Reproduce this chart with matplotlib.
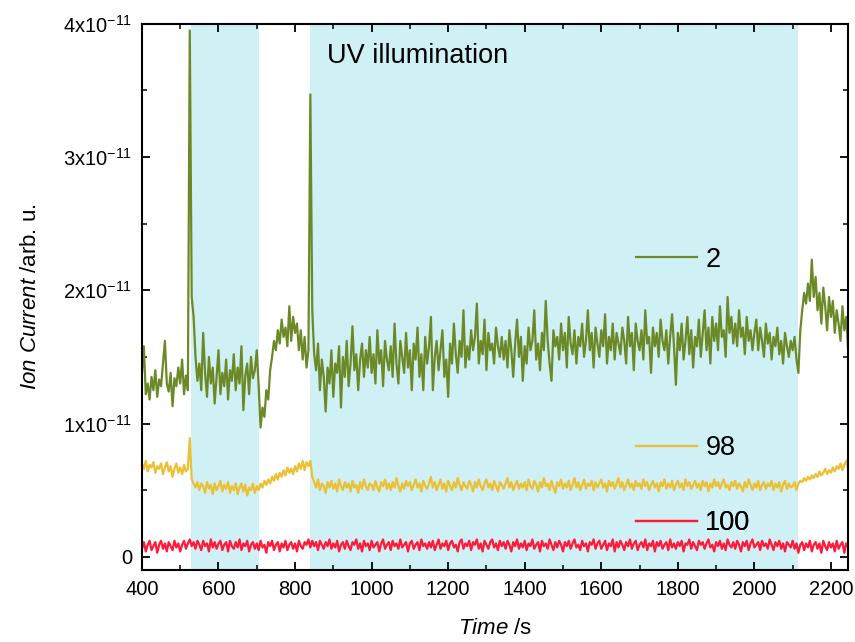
import numpy as np
import matplotlib
matplotlib.use("Agg")
import matplotlib.pyplot as plt
from matplotlib.ticker import MultipleLocator, FixedLocator, FuncFormatter

plt.rcParams['font.family'] = ['Liberation Sans', 'DejaVu Sans']
plt.rcParams['mathtext.fontset'] = 'custom'
plt.rcParams['mathtext.rm'] = 'Liberation Sans'
plt.rcParams['mathtext.it'] = 'Liberation Sans:italic'
plt.rcParams['mathtext.default'] = 'regular'

# time base (s), 5 s sampling
t_start, t_step = 400, 5

# m/z 2 ion current (units of 1e-11)
mz2 = [
    1.38,1.58,1.22,1.30,1.18,1.35,1.25,1.40,1.20,1.33,
    1.28,1.45,1.62,1.30,1.24,1.38,1.13,1.34,1.28,1.42,
    1.30,1.48,1.22,1.36,1.25,3.95,1.95,1.80,1.50,1.32,
    1.45,1.25,1.68,1.38,1.20,1.50,1.30,1.42,1.15,1.35,
    1.55,1.22,1.38,1.28,1.48,1.18,1.40,1.32,1.52,1.25,
    1.42,1.30,1.58,1.10,1.36,1.45,1.22,1.50,1.34,1.40,
    1.55,1.28,0.97,1.12,1.05,1.25,1.18,1.40,1.50,1.62,
    1.55,1.70,1.60,1.78,1.65,1.72,1.58,1.88,1.62,1.80,
    1.68,1.75,1.55,1.70,1.48,1.65,1.42,1.55,3.47,1.85,
    1.52,1.40,1.60,1.25,1.48,1.35,1.09,1.42,1.30,1.55,
    1.20,1.45,1.38,1.58,1.12,1.50,1.35,1.62,1.28,1.45,
    1.73,1.40,1.52,1.25,1.48,1.60,1.35,1.55,1.42,1.65,
    1.38,1.52,1.30,1.70,1.45,1.55,1.28,1.62,1.48,1.40,
    1.58,1.35,1.75,1.45,1.30,1.62,1.50,1.38,1.68,1.42,
    1.55,1.25,1.60,1.48,1.72,1.35,1.52,1.25,1.65,1.45,
    1.58,1.80,1.25,1.50,1.62,1.40,1.55,1.70,1.35,1.48,
    1.20,1.60,1.45,1.75,1.52,1.38,1.62,1.50,1.85,1.42,
    1.58,1.48,1.70,1.55,1.65,1.90,1.45,1.62,1.52,1.78,
    1.40,1.68,1.55,1.60,1.45,1.72,1.58,1.50,1.65,1.48,
    1.62,1.42,1.70,1.55,1.35,1.60,1.78,1.50,1.65,1.32,
    1.58,1.45,1.72,1.55,1.62,1.85,1.48,1.60,1.40,1.68,
    1.55,1.92,1.62,1.45,1.32,1.70,1.58,1.65,1.48,1.75,
    1.55,1.68,1.42,1.80,1.60,1.52,1.70,1.45,1.65,1.58,
    1.75,1.50,1.62,1.85,1.55,1.68,1.42,1.72,1.60,1.50,
    1.70,1.58,1.82,1.45,1.65,1.55,1.75,1.48,1.68,1.60,
    1.52,1.72,1.62,1.45,1.80,1.58,1.68,1.40,1.75,1.62,
    1.55,1.70,1.48,1.85,1.60,1.65,1.38,1.72,1.58,1.68,
    1.50,1.78,1.62,1.55,1.70,1.45,1.65,1.82,1.58,1.29,
    1.68,1.55,1.75,1.48,1.62,1.80,1.52,1.70,1.42,1.65,
    1.58,1.78,1.50,1.68,1.85,1.55,1.72,1.45,1.80,1.62,
    1.75,1.55,1.88,1.65,1.70,1.50,1.95,1.68,1.80,1.60,
    1.75,1.58,1.85,1.65,1.72,1.52,1.80,1.62,1.70,1.55,
    1.68,1.78,1.55,1.72,1.62,1.50,1.75,1.60,1.68,1.48,
    1.65,1.58,1.72,1.52,1.62,1.45,1.68,1.58,1.50,1.62,
    1.55,1.65,1.48,1.38,1.70,1.85,1.98,1.90,2.05,1.92,
    2.23,1.95,2.10,1.85,1.98,1.75,2.02,1.88,1.70,1.95,
    1.80,1.92,1.68,1.85,1.75,1.62,1.88,1.70,1.80,1.55,
]

# m/z 98 ion current (units of 1e-11)
mz98 = [
    0.70,0.66,0.72,0.64,0.69,0.67,0.71,0.63,0.68,0.66,
    0.70,0.62,0.67,0.71,0.64,0.68,0.60,0.66,0.70,0.63,
    0.67,0.62,0.69,0.64,0.66,0.89,0.58,0.55,0.52,0.56,
    0.50,0.55,0.53,0.48,0.56,0.51,0.54,0.47,0.55,0.50,
    0.53,0.57,0.49,0.54,0.51,0.56,0.48,0.53,0.50,0.55,
    0.47,0.52,0.55,0.49,0.54,0.46,0.52,0.50,0.55,0.48,
    0.53,0.50,0.55,0.52,0.57,0.54,0.58,0.55,0.60,0.57,
    0.62,0.58,0.63,0.60,0.65,0.61,0.67,0.63,0.66,0.62,
    0.68,0.64,0.70,0.66,0.72,0.65,0.71,0.68,0.72,0.60,
    0.56,0.52,0.58,0.50,0.55,0.53,0.48,0.56,0.52,0.57,
    0.51,0.55,0.49,0.58,0.53,0.50,0.56,0.52,0.55,0.49,
    0.57,0.52,0.54,0.48,0.56,0.51,0.58,0.53,0.50,0.55,
    0.54,0.50,0.57,0.52,0.49,0.56,0.53,0.58,0.51,0.55,
    0.50,0.56,0.52,0.59,0.53,0.49,0.55,0.51,0.57,0.53,
    0.56,0.50,0.54,0.58,0.52,0.55,0.49,0.57,0.53,0.51,
    0.55,0.60,0.52,0.56,0.50,0.54,0.58,0.51,0.55,0.49,
    0.57,0.53,0.50,0.56,0.52,0.59,0.54,0.50,0.56,0.53,
    0.51,0.57,0.54,0.49,0.56,0.52,0.58,0.53,0.50,0.55,
    0.58,0.52,0.55,0.50,0.57,0.53,0.49,0.56,0.54,0.51,
    0.55,0.59,0.52,0.56,0.50,0.54,0.57,0.51,0.55,0.52,
    0.56,0.50,0.58,0.53,0.51,0.57,0.54,0.49,0.56,0.52,
    0.59,0.53,0.55,0.50,0.57,0.52,0.48,0.56,0.53,0.58,
    0.51,0.55,0.52,0.57,0.50,0.54,0.59,0.52,0.56,0.50,
    0.54,0.58,0.51,0.55,0.53,0.57,0.50,0.56,0.52,0.55,
    0.58,0.52,0.55,0.49,0.57,0.53,0.56,0.51,0.55,0.59,
    0.52,0.56,0.50,0.54,0.58,0.52,0.55,0.50,0.57,0.53,
    0.55,0.51,0.58,0.53,0.56,0.50,0.54,0.57,0.52,0.55,
    0.49,0.56,0.53,0.58,0.51,0.55,0.52,0.57,0.50,0.54,
    0.57,0.52,0.55,0.50,0.58,0.53,0.56,0.51,0.54,0.57,
    0.52,0.55,0.50,0.57,0.53,0.56,0.49,0.55,0.52,0.58,
    0.53,0.56,0.51,0.55,0.58,0.52,0.54,0.50,0.56,0.53,
    0.57,0.51,0.55,0.53,0.49,0.56,0.52,0.58,0.54,0.50,
    0.55,0.52,0.57,0.50,0.54,0.56,0.51,0.55,0.53,0.57,
    0.50,0.55,0.52,0.56,0.49,0.54,0.57,0.51,0.55,0.52,
    0.53,0.56,0.50,0.55,0.57,0.56,0.59,0.57,0.60,0.58,
    0.61,0.59,0.62,0.60,0.64,0.61,0.63,0.66,0.62,0.65,
    0.63,0.67,0.64,0.68,0.66,0.70,0.65,0.69,0.72,0.66,
]

# m/z 100 ion current (units of 1e-11)
mz100 = [
    0.06,0.11,0.04,0.09,0.12,0.05,0.08,0.11,0.03,0.09,
    0.12,0.06,0.10,0.04,0.11,0.08,0.05,0.12,0.07,0.10,
    0.04,0.09,0.12,0.06,0.10,0.13,0.08,0.11,0.06,0.12,
    0.09,0.05,0.12,0.08,0.10,0.04,0.13,0.07,0.11,0.06,
    0.10,0.12,0.05,0.09,0.11,0.04,0.12,0.08,0.06,0.11,
    0.07,0.13,0.05,0.10,0.08,0.12,0.04,0.09,0.11,0.06,
    0.10,0.05,0.12,0.07,0.09,0.03,0.11,0.08,0.12,0.05,
    0.09,0.11,0.04,0.10,0.07,0.12,0.05,0.09,0.11,0.06,
    0.10,0.04,0.12,0.08,0.06,0.11,0.09,0.13,0.07,0.12,
    0.08,0.11,0.05,0.12,0.09,0.06,0.11,0.08,0.13,0.06,
    0.10,0.07,0.12,0.04,0.09,0.11,0.06,0.12,0.08,0.05,
    0.11,0.09,0.13,0.06,0.10,0.04,0.12,0.08,0.10,0.05,
    0.12,0.07,0.09,0.11,0.04,0.10,0.13,0.06,0.09,0.11,
    0.05,0.12,0.08,0.10,0.06,0.13,0.07,0.09,0.11,0.04,
    0.10,0.12,0.06,0.09,0.11,0.05,0.13,0.08,0.10,0.06,
    0.11,0.07,0.12,0.05,0.09,0.13,0.06,0.10,0.08,0.12,
    0.05,0.10,0.12,0.07,0.09,0.04,0.11,0.13,0.06,0.10,
    0.08,0.12,0.05,0.11,0.09,0.13,0.06,0.10,0.04,0.12,
    0.09,0.06,0.11,0.13,0.07,0.10,0.05,0.12,0.08,0.11,
    0.06,0.12,0.09,0.04,0.11,0.08,0.13,0.06,0.10,0.07,
    0.12,0.05,0.10,0.08,0.13,0.06,0.09,0.11,0.04,0.12,
    0.08,0.10,0.06,0.13,0.09,0.05,0.11,0.07,0.12,0.09,
    0.04,0.11,0.08,0.12,0.06,0.10,0.13,0.07,0.09,0.05,
    0.12,0.08,0.10,0.04,0.11,0.09,0.13,0.06,0.10,0.12,
    0.06,0.09,0.12,0.05,0.10,0.08,0.13,0.04,0.11,0.07,
    0.12,0.09,0.05,0.11,0.08,0.13,0.06,0.10,0.12,0.05,
    0.09,0.11,0.07,0.13,0.05,0.10,0.08,0.12,0.04,0.11,
    0.08,0.12,0.06,0.09,0.11,0.05,0.13,0.07,0.10,0.06,
    0.11,0.08,0.12,0.04,0.10,0.09,0.13,0.06,0.11,0.08,
    0.05,0.12,0.09,0.11,0.06,0.10,0.13,0.07,0.09,0.04,
    0.11,0.08,0.12,0.06,0.10,0.05,0.13,0.09,0.07,0.11,
    0.06,0.12,0.09,0.04,0.11,0.08,0.12,0.05,0.10,0.13,
    0.07,0.09,0.11,0.05,0.12,0.08,0.10,0.06,0.13,0.09,
    0.05,0.11,0.08,0.12,0.06,0.10,0.04,0.11,0.09,0.07,
    0.12,0.06,0.10,0.03,0.09,0.11,0.05,0.10,0.07,0.12,
    0.04,0.09,0.11,0.06,0.10,0.03,0.12,0.08,0.05,0.11,
    0.07,0.10,0.04,0.12,0.06,0.09,0.11,0.03,0.10,0.08,
]

uv_windows = [(528, 705), (838, 2115)]
series_labels = ['2', '98', '100']
x_ticks = [400, 600, 800, 1000, 1200, 1400, 1600, 1800, 2000, 2200]
y_ticks = [0, 1e-11, 2e-11, 3e-11, 4e-11]
scale = 1e-11

time = t_start + t_step * np.arange(len(mz2))

fig = plt.figure(figsize=(8.55, 6.42), dpi=100)
ax = fig.add_axes([0.166, 0.112, 0.826, 0.851])

for a, b in uv_windows:
    ax.axvspan(a, b, color='#CFF0F5', lw=0, zorder=0)

colors = ['#6B8A27', '#EBC034', '#FF1A3C']
lines = []
for vals, c in zip([mz2, mz98, mz100], colors):
    ln, = ax.plot(time, np.array(vals) * scale, color=c, lw=1.6, zorder=2)
    lines.append(ln)

ax.set_xlim(400, 2245)
ax.set_ylim(-0.1e-11, 4.0e-11)

ax.xaxis.set_major_locator(FixedLocator(x_ticks))
ax.xaxis.set_minor_locator(FixedLocator(list(range(500, 2245, 200))))
ax.yaxis.set_major_locator(FixedLocator(y_ticks))
ax.yaxis.set_minor_locator(FixedLocator([0.5e-11, 1.5e-11, 2.5e-11, 3.5e-11]))

def yfmt(v, pos):
    n = int(round(v / 1e-11))
    if n == 0:
        return '0'
    return r'%dx10$^{-11}$' % n

ax.yaxis.set_major_formatter(FuncFormatter(yfmt))
ax.tick_params(which='both', direction='in', top=True, right=True, labelsize=14.5)
ax.tick_params(which='major', length=6, width=1.3, pad=7)
ax.tick_params(which='minor', length=3.5, width=1.1)
for s in ax.spines.values():
    s.set_linewidth(1.5)

ax.set_xlabel(r'$\mathit{Time}$ /s', fontsize=16, labelpad=14)
ax.set_ylabel(r'$\mathit{Ion\ Current}$ /arb. u.', fontsize=16, labelpad=16)

ax.text(883, 3.76e-11, 'UV illumination', fontsize=19.5, va='center', ha='left')

legend_pos = [0.568, 0.223, 0.086]
for ln, lab, yp in zip(lines, series_labels, legend_pos):
    lg = ax.legend([ln], [lab], loc='center left', bbox_to_anchor=(0.70, yp),
                   frameon=False, fontsize=19.5, handlelength=2.25,
                   handletextpad=0.3, borderpad=0, borderaxespad=0)
    ax.add_artist(lg)

fig.savefig('out.png', dpi=100)
